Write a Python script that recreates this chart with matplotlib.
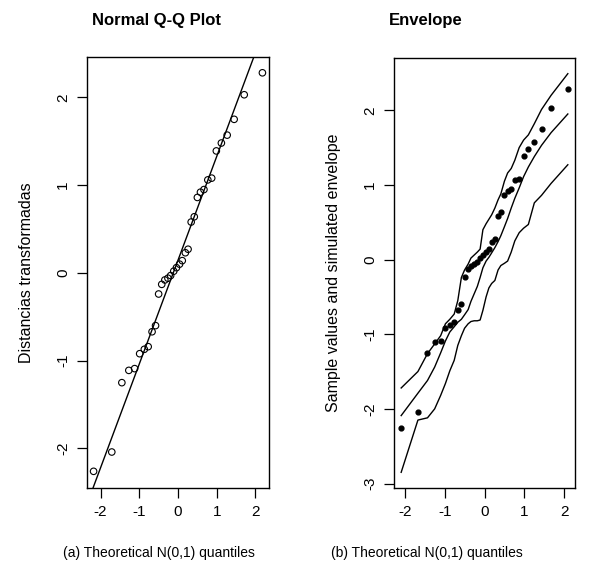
import matplotlib.pyplot as plt
import numpy as np

plt.rcParams['font.family'] = ['Liberation Sans', 'DejaVu Sans']
plt.rcParams['axes.unicode_minus'] = False

# cuantiles teoricos (qqnorm, ppoints) del panel (a)
xq_a = [-2.18, -1.71, -1.45, -1.27, -1.12, -0.99, -0.87, -0.77, -0.67, -0.58,
        -0.50, -0.42, -0.34, -0.26, -0.19, -0.11, -0.04, 0.04, 0.11, 0.19,
        0.26, 0.34, 0.42, 0.50, 0.58, 0.67, 0.77, 0.87, 0.99, 1.12,
        1.27, 1.45, 1.71, 2.18]
# cuantiles teoricos del panel (b)
xq_b = [-2.09, -1.67, -1.43, -1.25, -1.10, -0.98, -0.87, -0.76, -0.67, -0.58,
        -0.50, -0.41, -0.34, -0.26, -0.18, -0.11, -0.04, 0.04, 0.11, 0.18,
        0.26, 0.34, 0.41, 0.50, 0.58, 0.67, 0.76, 0.87, 0.98, 1.10,
        1.25, 1.43, 1.67, 2.09]

# distancias transformadas (ordenadas)
dist = [-2.26, -2.04, -1.25, -1.11, -1.09, -0.92, -0.87, -0.84, -0.67, -0.60,
        -0.24, -0.13, -0.08, -0.06, -0.03, 0.02, 0.06, 0.10, 0.14, 0.23,
        0.27, 0.58, 0.64, 0.86, 0.92, 0.95, 1.06, 1.08, 1.39, 1.48,
        1.57, 1.75, 2.03, 2.28]

# envelope simulado
env_sup = [-1.72, -1.50, -1.26, -1.13, -1.02, -0.86, -0.80, -0.73, -0.55, -0.24,
           -0.14, -0.06, 0.02, 0.06, 0.10, 0.14, 0.40, 0.48, 0.54, 0.60,
           0.69, 0.80, 0.88, 1.05, 1.16, 1.22, 1.33, 1.50, 1.60, 1.67,
           1.82, 2.01, 2.20, 2.49]
env_med = [-2.09, -1.79, -1.62, -1.44, -1.25, -1.09, -0.97, -0.90, -0.84, -0.80,
           -0.74, -0.67, -0.56, -0.46, -0.36, -0.24, -0.11, -0.02, 0.03, 0.09,
           0.16, 0.24, 0.32, 0.44, 0.55, 0.69, 0.82, 0.96, 1.11, 1.24,
           1.38, 1.53, 1.70, 1.95]
env_inf = [-2.85, -2.15, -2.12, -2.00, -1.82, -1.66, -1.49, -1.35, -1.15, -1.02,
           -0.92, -0.86, -0.83, -0.82, -0.82, -0.81, -0.68, -0.50, -0.38, -0.32,
           -0.28, -0.14, -0.08, -0.05, -0.02, 0.10, 0.25, 0.36, 0.42, 0.47,
           0.76, 0.86, 1.02, 1.27]

xq_a = np.array(xq_a)
dist = np.array(dist)

fig = plt.figure(figsize=(5.94, 5.74), dpi=100)
ax1 = fig.add_axes([87/594, 86/574, 182/594, 431/574])
ax2 = fig.add_axes([394/594, 86/574, 181/594, 430/574])


def estilo_r(ax, xlim, ylim):
    ax.set_xlim(xlim)
    ax.set_ylim(ylim)
    for s in ax.spines.values():
        s.set_linewidth(1.0)
    ax.tick_params(direction='out', length=7, width=0.9, labelsize=11, pad=5)
    for lab in ax.get_yticklabels():
        lab.set_rotation(90)
        lab.set_va('center')


# (a) qqnorm + qqline
ax1.scatter(xq_a, dist, s=22, facecolors='none', edgecolors='black', linewidths=0.8)
q1, q3 = np.quantile(dist, [0.25, 0.75])
z = 0.6745
pend = (q3 - q1) / (2 * z)
inter = q1 + pend * z
xx = np.array([-3, 3])
ax1.plot(xx, inter + pend * xx, color='black', lw=1.0)
ax1.set_xticks([-2, -1, 0, 1, 2])
ax1.set_yticks([-2, -1, 0, 1, 2])
estilo_r(ax1, (-2.35, 2.35), (-2.45, 2.46))
ax1.set_ylabel('Distancias transformadas', fontsize=11.5, labelpad=16)

# (b) envelope
ax2.scatter(xq_b, dist, s=12, color='black')
ax2.plot(xq_b, env_sup, color='black', lw=1.0)
ax2.plot(xq_b, env_med, color='black', lw=1.0)
ax2.plot(xq_b, env_inf, color='black', lw=1.0)
ax2.set_xticks([-2, -1, 0, 1, 2])
ax2.set_yticks([-3, -2, -1, 0, 1, 2])
estilo_r(ax2, (-2.27, 2.27), (-3.06, 2.70))
ax2.set_ylabel('Sample values and simulated envelope', fontsize=11.5, labelpad=16)

fig.text(157/594, 1 - 20/574, 'Normal Q-Q Plot', ha='center', va='center',
         fontsize=12, fontweight='bold')
fig.text(426/594, 1 - 20/574, 'Envelope', ha='center', va='center',
         fontsize=12, fontweight='bold')
fig.text(159/594, 1 - 553/574, '(a) Theoretical N(0,1) quantiles', ha='center',
         va='center', fontsize=10)
fig.text(427/594, 1 - 553/574, '(b) Theoretical N(0,1) quantiles', ha='center',
         va='center', fontsize=10)

fig.savefig('out.png', dpi=100)
